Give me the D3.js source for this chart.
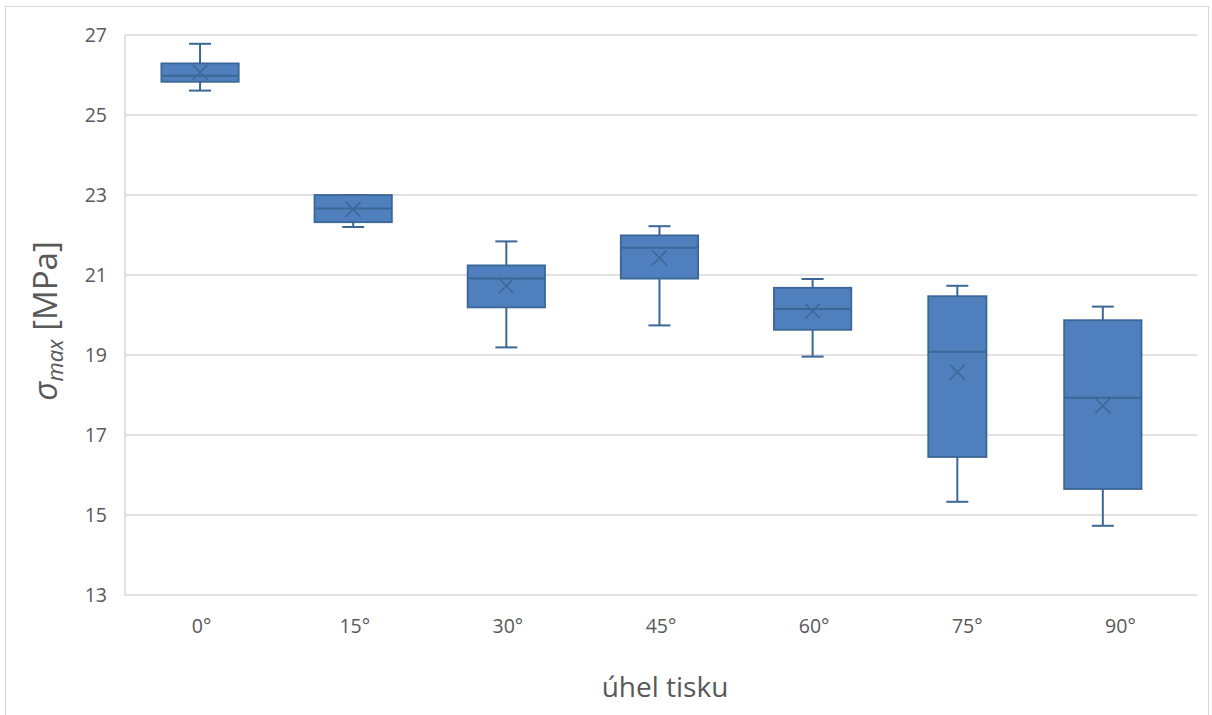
<!DOCTYPE html>
<html>
<head>
<meta charset="utf-8">
<script src="https://cdn.jsdelivr.net/npm/d3@7"></script>
<style>
  html, body { margin: 0; padding: 0; background: #fff; }
  svg { display: block; }
</style>
</head>
<body>
<svg id="chart" width="1212" height="715"></svg>
<script>
// Print angle categories and box-plot statistics of σmax [MPa]
const categories = ["0°", "15°", "30°", "45°", "60°", "75°", "90°"];
const whiskerMin = [25.61, 22.20, 19.19, 19.74, 18.96, 15.33, 14.73];
const quartile1  = [25.83, 22.32, 20.19, 20.91, 19.63, 16.45, 15.65];
const medians    = [25.98, 22.66, 20.91, 21.68, 20.15, 19.08, 17.93];
const quartile3  = [26.29, 23.00, 21.24, 21.99, 20.68, 20.47, 19.87];
const whiskerMax = [26.78, 23.00, 21.84, 22.22, 20.90, 20.73, 20.21];
const means      = [26.07, 22.64, 20.73, 21.43, 20.10, 18.57, 17.73];
const yTicks     = [13, 15, 17, 19, 21, 23, 25, 27];

const rows = categories.map((c, i) => ({
  cat: c, min: whiskerMin[i], q1: quartile1[i], med: medians[i],
  q3: quartile3[i], max: whiskerMax[i], mean: means[i]
}));

const svg = d3.select("#chart");
const plot = { left: 125, right: 1197, top: 35, bottom: 595 };
const fontFam = "'Open Sans', Lato, 'Liberation Sans', sans-serif";
const textCol = "#595959";
const fill = "#4f80bd", stroke = "#3b6796";

// outer chart frame
svg.append("rect").attr("x", 5.5).attr("y", 6.5).attr("width", 1203).attr("height", 720)
  .attr("fill", "none").attr("stroke", "#d9d9d9").attr("stroke-width", 1);

const x = d3.scaleBand().domain(categories).range([plot.left, plot.right]);
const y = d3.scaleLinear().domain([13, 27]).range([plot.bottom, plot.top]);

// horizontal gridlines
svg.append("g").selectAll("line").data(yTicks).join("line")
  .attr("x1", plot.left).attr("x2", plot.right)
  .attr("y1", d => y(d)).attr("y2", d => y(d))
  .attr("stroke", "#d9d9d9").attr("stroke-width", 1.5);

// vertical axis line
svg.append("line").attr("x1", plot.left).attr("x2", plot.left)
  .attr("y1", plot.top).attr("y2", plot.bottom)
  .attr("stroke", "#d9d9d9").attr("stroke-width", 1.5);

// y axis tick labels
const yAxis = d3.axisLeft(y).tickValues(yTicks).tickSize(0).tickPadding(18);
const gy = svg.append("g").attr("transform", `translate(${plot.left},0)`).call(yAxis);
gy.select(".domain").remove();
gy.selectAll("text").attr("font-family", fontFam).attr("font-size", 19.5).attr("fill", textCol);

// x axis tick labels
const xAxis = d3.axisBottom(x).tickSize(0).tickPadding(24);
const gx = svg.append("g").attr("transform", `translate(0,${plot.bottom})`).call(xAxis);
gx.select(".domain").remove();
gx.selectAll("text").attr("font-family", fontFam).attr("font-size", 19.5).attr("fill", textCol);

// box placement within each band: the last two boxes sit slightly left,
// and the 75° box is drawn narrower
const boxShift = { "75°": -0.065, "90°": -0.115 };   // fraction of band width
const boxScale = { "75°": 0.38 };                     // box width / band width
const bw = x.bandwidth();
const cx = d => x(d.cat) + bw / 2 + (boxShift[d.cat] || -0.01) * bw;
const boxW = d => (boxScale[d.cat] || 0.505) * bw;
const capW = 22;

const g = svg.append("g").selectAll("g").data(rows).join("g")
  .attr("transform", d => `translate(${cx(d)},0)`);

// whiskers
g.append("line").attr("x1", 0).attr("x2", 0)
  .attr("y1", d => y(d.max)).attr("y2", d => y(d.q3))
  .attr("stroke", stroke).attr("stroke-width", 2);
g.append("line").attr("x1", 0).attr("x2", 0)
  .attr("y1", d => y(d.q1)).attr("y2", d => y(d.min))
  .attr("stroke", stroke).attr("stroke-width", 2);
g.append("line").attr("x1", -capW / 2).attr("x2", capW / 2)
  .attr("y1", d => y(d.max)).attr("y2", d => y(d.max))
  .attr("stroke", stroke).attr("stroke-width", 2);
g.append("line").attr("x1", -capW / 2).attr("x2", capW / 2)
  .attr("y1", d => y(d.min)).attr("y2", d => y(d.min))
  .attr("stroke", stroke).attr("stroke-width", 2);

// box body
g.append("rect").attr("x", d => -boxW(d) / 2).attr("width", boxW)
  .attr("y", d => y(d.q3)).attr("height", d => y(d.q1) - y(d.q3))
  .attr("fill", fill).attr("stroke", stroke).attr("stroke-width", 1.8);

// median line
g.append("line").attr("x1", d => -boxW(d) / 2).attr("x2", d => boxW(d) / 2)
  .attr("y1", d => y(d.med)).attr("y2", d => y(d.med))
  .attr("stroke", stroke).attr("stroke-width", 2);

// mean marker (×)
const m = 7.5;
g.append("path")
  .attr("d", d => {
    const cy = y(d.mean);
    return `M${-m},${cy - m}L${m},${cy + m}M${-m},${cy + m}L${m},${cy - m}`;
  })
  .attr("stroke", stroke).attr("stroke-width", 1.5).attr("fill", "none");

// axis titles
svg.append("text").attr("x", 665).attr("y", 697)
  .attr("text-anchor", "middle").attr("font-family", fontFam).attr("font-size", 28)
  .attr("fill", textCol).text("úhel tisku");

const yt = svg.append("text")
  .attr("transform", `translate(57,321) rotate(-90)`)
  .attr("text-anchor", "middle").attr("font-family", fontFam).attr("font-size", 33)
  .attr("fill", textCol);
yt.append("tspan").attr("font-style", "italic").text("σ");
yt.append("tspan").attr("font-style", "italic").attr("font-size", 22).attr("dy", 6).text("max");
yt.append("tspan").attr("dy", -6).text(" [MPa]");
</script>
</body>
</html>
